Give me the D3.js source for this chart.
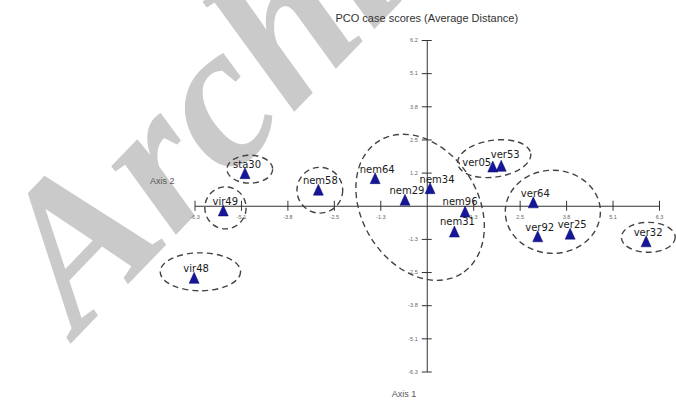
<!DOCTYPE html>
<html>
<head>
<meta charset="utf-8">
<script src="https://cdn.jsdelivr.net/npm/d3@7"></script>
<style>
    body { margin: 0; background: #fff; }
</style>
</head>
<body>
<div id="chart"></div>
<script>
    let width = 676, height = 400;

    // case scores (axis 1, axis 2)
    const caseNames = ["sta30", "vir49", "vir48", "nem58", "nem64", "nem29", "nem34", "nem96",
                       "nem31", "ver05", "ver53", "ver64", "ver92", "ver25", "ver32"];
    const axis1Scores = [-4.93, -5.52, -6.31, -2.94, -1.40, -0.59, 0.09, 1.04,
                         0.75, 1.79, 2.02, 2.89, 3.01, 3.89, 5.95];
    const axis2Scores = [1.22, -0.20, -2.76, 0.59, 1.03, 0.21, 0.65, -0.24,
                         -1.00, 1.47, 1.50, 0.11, -1.18, -1.08, -1.37];

    // tick values and their printed labels
    const tickValues = [-6.3, -5.04, -3.78, -2.52, -1.26, 1.26, 2.52, 3.78, 5.04, 6.3];
    const xTickLabels = ["-6.3", "-5.1", "-3.8", "-2.5", "-1.3", "1.3", "2.5", "3.8", "5.1", "6.3"];
    const yTickLabels = ["-6.3", "-5.1", "-3.8", "-2.5", "-1.3", "1.2", "2.5", "3.8", "5.1", "6.2"];

    // hand-drawn group ellipses (centre and radii in axis units, tilt in degrees)
    const groupCx = [-4.80, -5.46, -6.14, -2.90, -0.18, 1.83, 3.42, 6.01];
    const groupCy = [1.39, -0.08, -2.51, 0.59, -0.06, 1.79, -0.23, -1.20];
    const groupRx = [0.62, 0.56, 1.09, 0.62, 2.12, 1.00, 1.29, 0.73];
    const groupRy = [0.53, 0.80, 0.72, 0.87, 2.20, 0.70, 1.58, 0.57];
    const groupTilt = [0, 0, 0, 0, 58, -8, 0, 0];

    // where a label sits off its default spot above the triangle
    const labelNudge = { ver05: [-18, 5], ver53: [2, -2], nem34: [5, 0], nem96: [-7, -1], nem31: [1, -1] };

    const cases = caseNames.map((name, i) => ({ name: name, a1: axis1Scores[i], a2: axis2Scores[i] }));
    const groups = groupCx.map((cx, i) => ({ cx: cx, cy: groupCy[i], rx: groupRx[i], ry: groupRy[i], tilt: groupTilt[i] }));

    const svg = d3.select("#chart")
        .append("svg")
        .attr("width", width)
        .attr("height", height);

    // watermark sitting behind the plot
    svg.append("text")
        .attr("transform", "translate(78,336) rotate(-46)")
        .attr("font-family", "Liberation Serif, serif")
        .attr("font-style", "italic")
        .attr("font-weight", "bold")
        .attr("font-size", 205)
        .attr("fill", "#cacaca")
        .text("Archive");

    const x = d3.scaleLinear().domain([-6.3, 6.3]).range([194.5, 659]);
    const y = d3.scaleLinear().domain([-6.3, 6.3]).range([371.5, 40]);
    const kx = x(1) - x(0), ky = y(0) - y(1);

    svg.append("text")
        .attr("x", x(0))
        .attr("y", 22)
        .attr("text-anchor", "middle")
        .attr("font-family", "Liberation Sans, Arial, sans-serif")
        .attr("font-size", 11)
        .attr("fill", "#333")
        .text("PCO case scores (Average Distance)");

    // horizontal axis (axis 1)
    const xAxis = svg.append("g")
        .attr("transform", `translate(0,${y(0)})`)
        .call(d3.axisBottom(x)
            .tickValues(tickValues)
            .tickFormat((d, i) => xTickLabels[i])
            .tickSizeInner(5)
            .tickSizeOuter(0)
            .tickPadding(4));

    xAxis.selectAll(".tick line").attr("y1", -5);
    xAxis.selectAll(".tick text")
        .attr("font-size", 5.5)
        .attr("fill", "#666");

    // vertical axis (axis 2)
    const yAxis = svg.append("g")
        .attr("transform", `translate(${x(0)},0)`)
        .call(d3.axisLeft(y)
            .tickValues(tickValues)
            .tickFormat((d, i) => yTickLabels[i])
            .tickSizeInner(5)
            .tickSizeOuter(0)
            .tickPadding(4));

    yAxis.selectAll(".tick line").attr("x1", 5).attr("x2", -5);
    yAxis.selectAll(".tick text")
        .attr("font-size", 5.5)
        .attr("fill", "#666");

    svg.selectAll(".domain, .tick line").attr("stroke", "#333");

    svg.append("text")
        .attr("x", 150)
        .attr("y", 184)
        .attr("font-family", "Liberation Sans, Arial, sans-serif")
        .attr("font-size", 9)
        .attr("fill", "#555")
        .text("Axis 2");

    svg.append("text")
        .attr("x", 404)
        .attr("y", 397)
        .attr("text-anchor", "middle")
        .attr("font-family", "Liberation Sans, Arial, sans-serif")
        .attr("font-size", 9)
        .attr("fill", "#555")
        .text("Axis 1");

    svg.append("g")
        .selectAll("ellipse")
        .data(groups)
        .join("ellipse")
        .attr("transform", d => `translate(${x(d.cx)},${y(d.cy)}) rotate(${d.tilt})`)
        .attr("rx", d => d.rx * kx)
        .attr("ry", d => d.ry * ky)
        .attr("fill", "none")
        .attr("stroke", "#444")
        .attr("stroke-width", 1.4)
        .attr("stroke-dasharray", "6,4");

    const pts = svg.append("g")
        .selectAll("g")
        .data(cases)
        .join("g")
        .attr("transform", d => `translate(${x(d.a1)},${y(d.a2)})`);

    pts.append("path")
        .attr("d", "M0,-6L5,5L-5,5Z")
        .attr("fill", "#16169c")
        .attr("stroke", "#0a0a60")
        .attr("stroke-width", 0.5);

    pts.append("text")
        .attr("x", d => 2 + (labelNudge[d.name] ? labelNudge[d.name][0] : 0))
        .attr("y", d => -6 + (labelNudge[d.name] ? labelNudge[d.name][1] : 0))
        .attr("text-anchor", "middle")
        .attr("font-family", "DejaVu Sans, sans-serif")
        .attr("font-size", 10)
        .attr("fill", "#1a1a1a")
        .text(d => d.name);
</script>
</body>
</html>
